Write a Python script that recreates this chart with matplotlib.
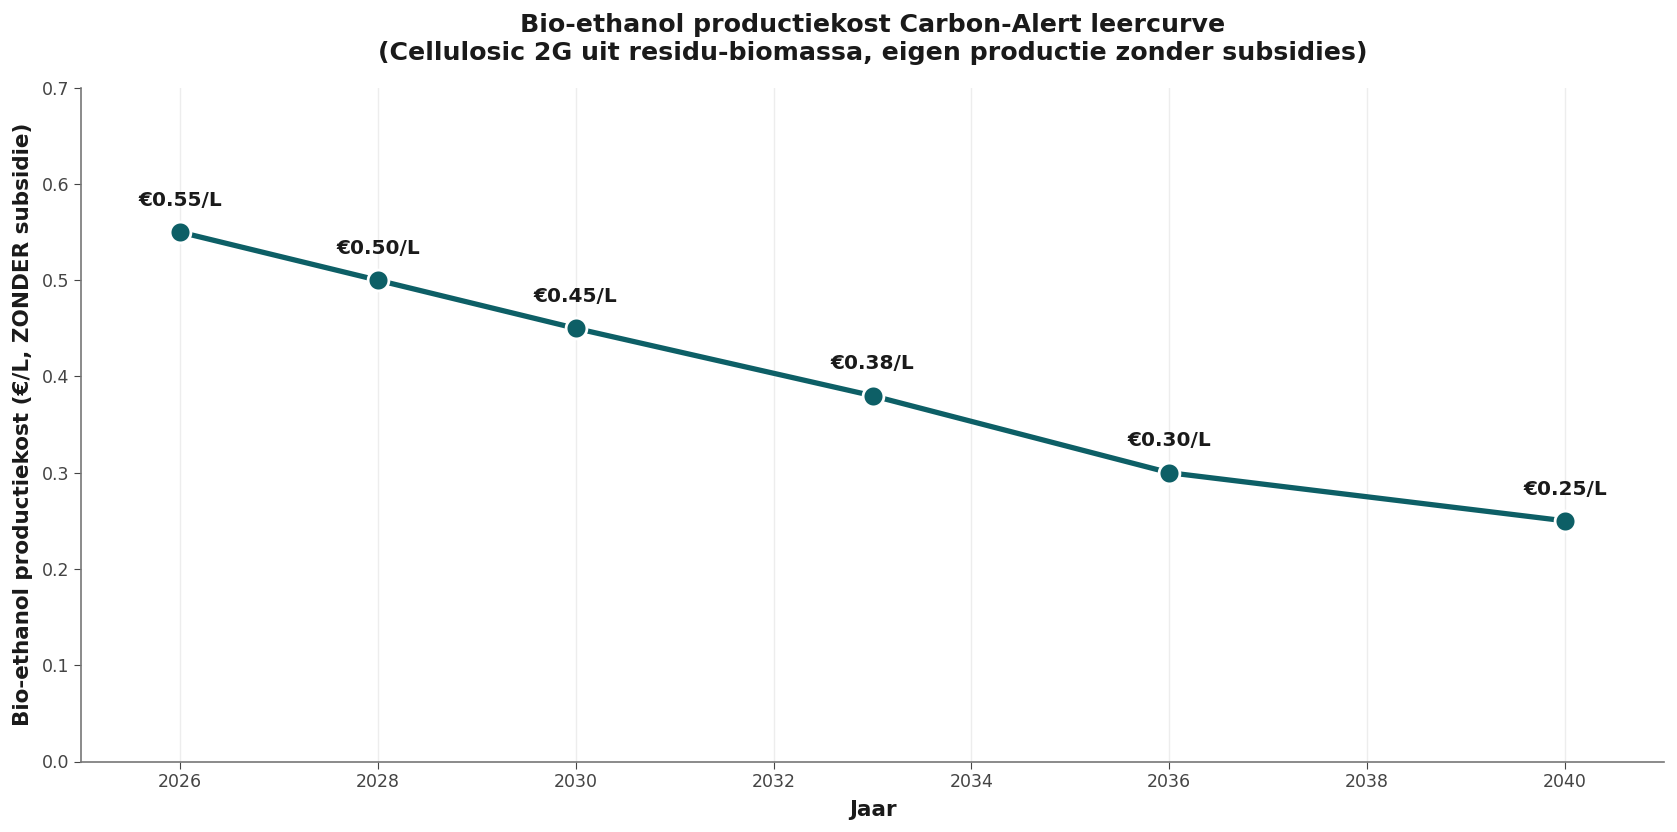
import matplotlib.pyplot as plt

jaren = [2026, 2028, 2030, 2033, 2036, 2040]
kost = [0.55, 0.50, 0.45, 0.38, 0.30, 0.25]
labels = ['€0.55/L', '€0.50/L', '€0.45/L', '€0.38/L', '€0.30/L', '€0.25/L']

kleur = '#0d5f66'

fig = plt.figure(figsize=(16.77, 8.32), dpi=100)
ax = fig.add_axes([81 / 1677, 1 - 761.5 / 832, (1664 - 81) / 1677, (761.5 - 87.7) / 832])

ax.plot(jaren, kost, color=kleur, linewidth=3.8, marker='o', markersize=15,
        markerfacecolor=kleur, markeredgecolor='white', markeredgewidth=2, zorder=3)

for x, y, t in zip(jaren, kost, labels):
    ax.text(x, y + 0.033, t, ha='center', va='center', fontsize=14.5,
            fontweight='bold', color='#1a1a1a')

ax.set_xlim(2025, 2041)
ax.set_ylim(0, 0.7)
ax.set_xticks(range(2026, 2041, 2))
ax.set_yticks([0.0, 0.1, 0.2, 0.3, 0.4, 0.5, 0.6, 0.7])
ax.yaxis.set_major_formatter(plt.FormatStrFormatter('%.1f'))
ax.tick_params(labelsize=12.5, colors='#444444', length=5)
ax.grid(axis='x', color='#ededed', linewidth=1)
ax.set_axisbelow(True)

for s in ['top', 'right']:
    ax.spines[s].set_visible(False)
for s in ['left', 'bottom']:
    ax.spines[s].set_color('#777777')
    ax.spines[s].set_linewidth(1.2)

ax.set_xlabel('Jaar', fontsize=15.5, fontweight='bold', color='#1a1a1a', labelpad=6)
ax.set_ylabel('Bio-ethanol productiekost (€/L, ZONDER subsidie)', fontsize=15.5,
              fontweight='bold', color='#1a1a1a', labelpad=6)
ax.set_title('Bio-ethanol productiekost Carbon-Alert leercurve\n'
             '(Cellulosic 2G uit residu-biomassa, eigen productie zonder subsidies)',
             fontsize=18.2, fontweight='bold', color='#1a1a1a', pad=20)

fig.savefig('out.png', dpi=100)
